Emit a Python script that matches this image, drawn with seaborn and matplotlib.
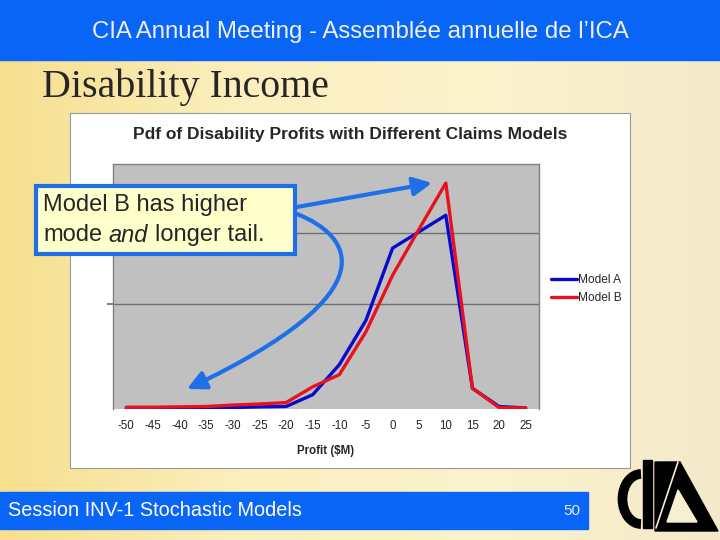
import numpy as np
import pandas as pd
import matplotlib
matplotlib.use("Agg")
import matplotlib.pyplot as plt
import seaborn as sns
from matplotlib.patches import Rectangle, FancyArrowPatch, Polygon, Arc
from matplotlib.path import Path
from matplotlib.colors import LinearSegmentedColormap

# Pdf values (percent per $5M bucket)
profit = [-50, -45, -40, -35, -30, -25, -20, -15, -10, -5, 0, 5, 10, 15, 20, 25]
model_a = [0.1, 0.1, 0.1, 0.2, 0.2, 0.3, 0.35, 2.0, 6.2, 12.4, 22.5, 24.8, 27.1, 2.9, 0.35, 0.15]
model_b = [0.25, 0.25, 0.3, 0.35, 0.55, 0.7, 0.9, 3.1, 4.8, 10.8, 18.7, 25.2, 31.6, 2.9, 0.2, 0.15]
models = ["Model A", "Model B"]
line_colors = ["#0A0ACD", "#E8121E"]
grid_levels = [14.7, 24.6]

df = pd.DataFrame({
    "Profit": profit + profit,
    "Density": model_a + model_b,
    "Model": [models[0]] * len(profit) + [models[1]] * len(profit),
})

sns.set_theme(style="white")
plt.rcParams["font.family"] = ["Liberation Sans", "DejaVu Sans"]

fig = plt.figure(figsize=(7.2, 5.4), dpi=100)

# slide background (pixel coordinates, y down)
bg = fig.add_axes([0, 0, 1, 1])
cmap = LinearSegmentedColormap.from_list("slide", ["#F7DF8E", "#FBEFBE", "#FCF2CC", "#F4EACB"])
bg.imshow(np.linspace(0, 1, 256).reshape(1, -1), cmap=cmap, extent=[0, 720, 540, 0], aspect="auto")
bg.set_xlim(0, 720)
bg.set_ylim(540, 0)
bg.axis("off")

bg.add_patch(Rectangle((0, 0), 720, 60, color="#0865F6"))
bg.text(360, 32, "CIA Annual Meeting - Assemblée annuelle de l’ICA", fontsize=17.3,
        color="#F0F0F0", ha="center", va="center")
bg.text(42, 87, "Disability Income", fontsize=28.7, family="Liberation Serif", va="center")

# chart frame
bg.add_patch(Rectangle((70, 113), 560, 355, facecolor="white", edgecolor="#9A9A9A", lw=0.8))
bg.text(350, 135, "Pdf of Disability Profits with Different Claims Models", fontsize=12.5,
        fontweight="bold", ha="center", va="center")

# plot area
ax = fig.add_axes([113 / 720, 131 / 540, 426 / 720, 245 / 540])
ax.set_facecolor("#C0C0C0")
sns.lineplot(data=df, x="Profit", y="Density", hue="Model", palette=dict(zip(models, line_colors)),
             linewidth=2.4, ax=ax)
ax.set_xlim(-52.5, 27.5)
ax.set_ylim(0, 34.27)
ax.set_xticks(profit)
ax.set_xticklabels([str(p) for p in profit])
ax.set_yticks(grid_levels)
ax.set_yticklabels([])
ax.tick_params(axis="x", length=0, pad=8, labelsize=8.3, labelcolor="#222222")
ax.tick_params(axis="y", left=True, length=4, color="#707070", labelleft=False)
ax.grid(axis="y", color="#707070", lw=1)
ax.set_axisbelow(True)
ax.set_xlabel("Profit ($M)", fontsize=8.3, fontweight="bold", labelpad=9)
ax.set_ylabel("")
for side in ["top", "right", "left"]:
    ax.spines[side].set_color("#808080")
    ax.spines[side].set_linewidth(1)
ax.spines["bottom"].set_visible(False)

handles, labels = ax.get_legend_handles_labels()
ax.legend(handles, labels, loc="upper left", bbox_to_anchor=(551 / 720, 1 - 274 / 540),
          bbox_transform=fig.transFigure, frameon=False, fontsize=8.6, handlelength=2.2,
          handletextpad=0.1, labelspacing=0.5, borderpad=0, borderaxespad=0)

# overlay: callout, arrows, footer, logo
top = fig.add_axes([0, 0, 1, 1])
top.set_xlim(0, 720)
top.set_ylim(540, 0)
top.axis("off")
top.patch.set_alpha(0)

arrow_blue = "#1F6FE8"
top.add_patch(FancyArrowPatch((297, 207), (432, 183), arrowstyle="-|>", mutation_scale=28,
                              lw=3, color=arrow_blue, shrinkA=0, shrinkB=0))
curve = Path([(297, 214), (350, 235), (395, 290), (187, 389)],
             [Path.MOVETO, Path.CURVE4, Path.CURVE4, Path.CURVE4])
top.add_patch(FancyArrowPatch(path=curve, arrowstyle="-|>", mutation_scale=28, lw=3, color=arrow_blue))

top.add_patch(Rectangle((36, 186), 259, 68, facecolor="#FFFFCC", edgecolor=arrow_blue, lw=3))
note_size = 17
top.text(43, 205, "Model B has higher", fontsize=note_size, va="center")
renderer = fig.canvas.get_renderer()
space = 0.278 * note_size * 100 / 72
x = 43
for word, style in [("mode", "normal"), ("and", "italic"), ("longer tail.", "normal")]:
    t = top.text(x, 235, word, fontsize=note_size, style=style, va="center")
    x = t.get_window_extent(renderer).x1 + space

top.add_patch(Rectangle((0, 492), 588, 37, color="#0865F6"))
top.text(8, 510, "Session INV-1 Stochastic Models", fontsize=14.3, color="white", va="center")
top.text(572, 511, "50", fontsize=11, color="#E8E8E8", ha="center", va="center")

top.add_patch(Arc((641, 499), 37, 50, theta1=90, theta2=270, lw=7, color="black"))
top.add_patch(Rectangle((643, 460), 9, 68, color="black"))
top.add_patch(Polygon([(655, 462), (680, 462), (718, 531), (655, 531)], color="black"))
top.add_patch(Polygon([(667, 522), (697, 522), (678, 490)], color="#F6EFD2"))
top.plot([678, 656], [462, 528], color="#F6EFD2", lw=1.2)

fig.savefig("out.png", dpi=100)
